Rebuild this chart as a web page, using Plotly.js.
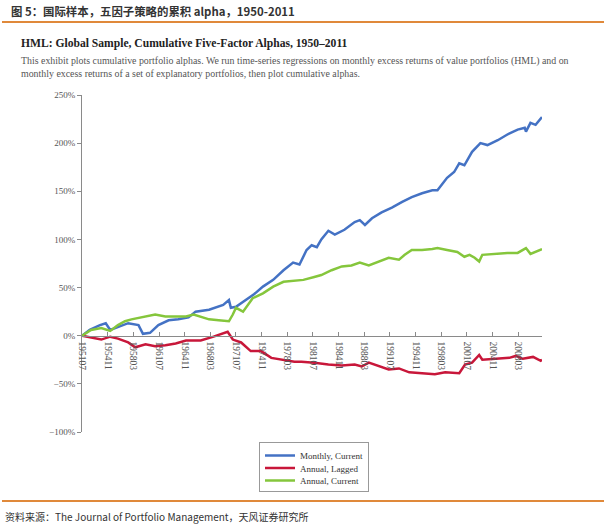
<!DOCTYPE html>
<html>
<head>
<meta charset="utf-8">
<script src="https://cdn.plot.ly/plotly-3.0.1.min.js"></script>
<style>html,body{margin:0;padding:0;background:#fff;}#chart{width:609px;height:528px;}</style>
</head>
<body>
<div id="chart"></div>
<script>
// ---- data ----
const tickLabels = ['195107','195411','195803','196107','196411','196803','197107','197411','197803',
  '198107','198411','198803','199107','199411','199803','200107','200411','200803'];
const yTickVals = [-100,-50,0,50,100,150,200,250];
const yTickText = ['−100%','−50%','0%','50%','100%','150%','200%','250%'];

const monthlyDates = ['1951-07','1952-07','1953-11','1954-08','1955-03','1956-03','1957-07','1958-11','1959-06',
  '1960-05','1961-06','1962-10','1964-01','1965-05','1966-04','1968-01','1969-11','1970-08','1970-11','1971-07',
  '1972-11','1973-11','1975-01','1976-05','1977-09','1978-12','1979-10','1980-09','1981-05','1982-01','1982-08',
  '1983-07','1984-05','1985-08','1986-12','1987-08','1988-04','1989-03','1990-06','1991-10','1993-02','1994-05',
  '1995-09','1997-01','1997-09','1998-12','1999-11','2000-07','2001-03','2001-08','2002-03','2003-04','2004-03',
  '2005-07','2006-10','2008-02','2009-01','2009-03','2009-10','2010-06','2011-04'];
const monthlyCurrent = [0,6,11,13,6,9,13,11,2,
  3,11,16,17,19,25,27,32,37,29,30,
  37,43,51,58,68,76,74,89,94,92,100,
  109,105,110,118,120,115,122,128,133,139,144,
  148,151,151,164,170,179,177,183,191,200,198,
  203,209,214,216,212,221,219,227];

const lagDates = ['1951-07','1952-09','1954-01','1955-03','1956-03','1957-07','1958-06','1959-10','1961-01',
  '1962-05','1963-09','1965-01','1966-04','1966-12','1968-08','1970-06','1971-02','1972-03','1973-06','1974-10',
  '1976-02','1977-10','1979-02','1980-01','1981-09','1983-07','1985-04','1986-12','1987-11','1988-10','1990-02',
  '1991-05','1992-09','1994-01','1995-09','1997-05','1998-09','2000-07','2001-04','2002-03','2003-02','2003-07',
  '2005-04','2007-01','2007-11','2008-10','2010-02','2011-02','2011-04'];
const annualLagged = [0,-2,-4,-1,-3,-7,-12,-9,-11,
  -10,-8,-5,-5,-5,-1,4,-4,-7,-16,-16,
  -23,-25,-27,-27,-28,-30,-31,-30,-32,-28,-32,
  -35,-34,-38,-39,-40,-38,-39,-30,-28,-20,-25,
  -24,-23,-21,-24,-22,-26,-25];

const currDates = ['1951-07','1952-09','1954-01','1955-03','1956-03','1957-02','1957-12','1959-10','1961-01',
  '1962-05','1963-09','1965-01','1966-01','1968-01','1969-04','1970-08','1971-02','1971-07','1972-06','1973-09',
  '1975-01','1976-05','1977-09','1978-12','1980-04','1981-09','1982-08','1983-12','1985-04','1986-07','1987-08',
  '1988-10','1990-02','1991-05','1992-09','1993-06','1994-05','1995-09','1997-01','1997-09','1998-12','2000-04',
  '2001-03','2001-11','2002-07','2003-02','2003-07','2005-02','2006-10','2008-02','2009-03','2009-10','2010-10',
  '2011-04'];
const annualCurrent = [0,6,8,5,11,15,17,20,22,
  20,20,20,22,17,16,15,22,29,25,39,
  44,51,56,57,58,61,63,68,72,73,76,
  73,77,81,79,84,89,89,90,91,89,87,
  82,84,81,77,84,85,86,86,91,85,88,
  90];

const seriesNames = ['Monthly, Current','Annual, Lagged','Annual, Current'];

// ---- layout helpers (pixel -> paper) ----
const W = 609, H = 528, L = 82, R = 67, T = 95, B = 96;
const PW = W - L - R, PH = H - T - B;
const px = x => (x - L) / PW;
const py = y => (H - B - y) / PH;

const serif = 'Liberation Serif, Times New Roman, serif';
const cjk = 'Noto Sans CJK SC, sans-serif';

const traces = [
  {x: monthlyDates, y: monthlyCurrent, name: seriesNames[0], mode: 'lines', line: {color: '#4472c4', width: 2.5}},
  {x: lagDates, y: annualLagged, name: seriesNames[1], mode: 'lines', line: {color: '#c8173a', width: 2.5}},
  {x: currDates, y: annualCurrent, name: seriesNames[2], mode: 'lines', line: {color: '#85c63c', width: 2.5}}
];

const tickVals = tickLabels.map(s => s.slice(0,4) + '-' + s.slice(4) + '-01');

const layout = {
  width: W, height: H,
  margin: {l: L, r: R, t: T, b: B, pad: 0},
  paper_bgcolor: '#fff', plot_bgcolor: '#fff',
  showlegend: true,
  font: {family: serif, color: '#444', size: 9},
  xaxis: {
    type: 'date', range: ['1951-07-01', '2011-04-01'],
    anchor: 'free', position: 100/350,
    showline: true, linecolor: '#8a8a8a', linewidth: 1,
    showgrid: false, zeroline: false,
    tickmode: 'array', tickvals: tickVals, ticktext: tickLabels,
    ticks: 'inside', ticklen: 4, tickcolor: '#8a8a8a',
    ticklabelstandoff: 3,
    tickangle: 90, tickfont: {family: serif, size: 9.5, color: '#555'}
  },
  yaxis: {
    range: [-100, 250], tickmode: 'array', tickvals: yTickVals, ticktext: yTickText,
    showline: true, linecolor: '#8a8a8a', linewidth: 1,
    showgrid: false, zeroline: false,
    ticks: 'outside', ticklen: 4, tickcolor: '#8a8a8a',
    tickfont: {family: serif, size: 9, color: '#555'}
  },
  legend: {
    x: px(259), y: py(442), xanchor: 'left', yanchor: 'top',
    bordercolor: '#999', borderwidth: 1, bgcolor: '#fff',
    font: {family: serif, size: 9, color: '#333'},
    itemwidth: 30, tracegroupgap: 0
  },
  shapes: [
    {type: 'line', xref: 'paper', yref: 'paper', x0: px(2), x1: px(604), y0: py(22), y1: py(22),
     line: {color: '#e0893a', width: 2}},
    {type: 'line', xref: 'paper', yref: 'paper', x0: px(2), x1: px(604), y0: py(501), y1: py(501),
     line: {color: '#e0893a', width: 2}}
  ],
  annotations: [
    {xref: 'paper', yref: 'paper', x: px(9), y: py(11), xanchor: 'left', yanchor: 'middle', showarrow: false,
     text: '<b>图 5：国际样本，五因子策略的累积 alpha，1950-2011</b>', font: {family: cjk, size: 11.4, color: '#333'}},
    {xref: 'paper', yref: 'paper', x: px(19), y: py(43), xanchor: 'left', yanchor: 'middle', showarrow: false,
     text: '<b>HML: Global Sample, Cumulative Five-Factor Alphas, 1950–2011</b>', font: {family: serif, size: 11.6, color: '#222'}},
    {xref: 'paper', yref: 'paper', x: px(19), y: py(61), xanchor: 'left', yanchor: 'middle', showarrow: false,
     text: 'This exhibit plots cumulative portfolio alphas. We run time-series regressions on monthly excess returns of value portfolios (HML) and on',
     font: {family: serif, size: 9.9, color: '#555'}},
    {xref: 'paper', yref: 'paper', x: px(19), y: py(74), xanchor: 'left', yanchor: 'middle', showarrow: false,
     text: 'monthly excess returns of a set of explanatory portfolios, then plot cumulative alphas.',
     font: {family: serif, size: 9.9, color: '#555'}},
    {xref: 'paper', yref: 'paper', x: px(3), y: py(516), xanchor: 'left', yanchor: 'middle', showarrow: false,
     text: '资料来源：The Journal of Portfolio Management，天风证券研究所', font: {family: cjk, size: 10, color: '#333'}}
  ]
};

Plotly.newPlot('chart', traces, layout, {displayModeBar: false, staticPlot: true}).then(gd => {
  // tighten legend row spacing to match the reference box
  const step = 12.5;
  const items = gd.querySelectorAll('.legend .traces');
  let y0 = null;
  items.forEach((g, i) => {
    const m = /translate\(([^,]+),\s*([^)]+)\)/.exec(g.getAttribute('transform') || '');
    if (!m) return;
    const x = parseFloat(m[1]); const y = parseFloat(m[2]);
    if (y0 === null) y0 = y - 2;
    g.setAttribute('transform', 'translate(' + x + ',' + (y0 + i * step) + ')');
  });
  const h = (y0 || 7) + items.length * step - 2;
  gd.querySelectorAll('.legend .bg').forEach(r => r.setAttribute('height', h));
  gd.querySelectorAll('clipPath rect').forEach(r => {
    if (r.closest('clipPath') && r.closest('clipPath').id.indexOf('legend') >= 0) r.setAttribute('height', h);
  });
});
</script>
</body>
</html>
